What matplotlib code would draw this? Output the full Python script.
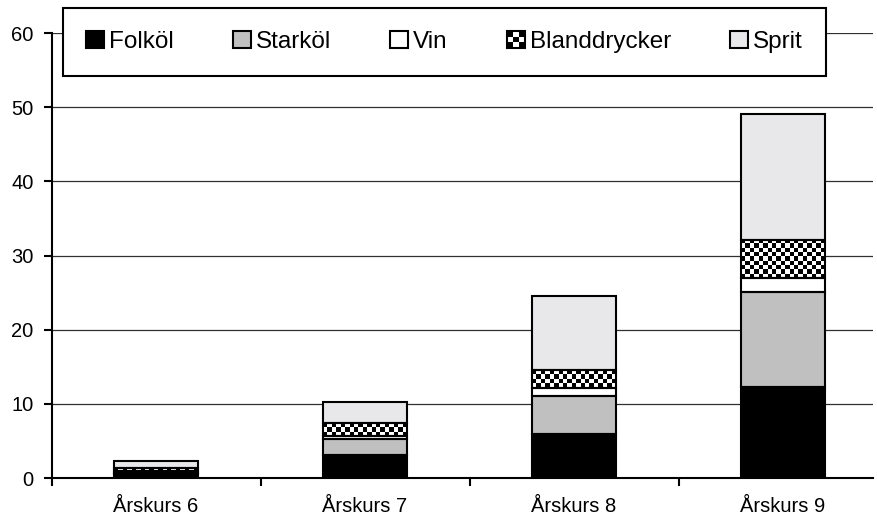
import numpy as np
import matplotlib
matplotlib.use("Agg")
import matplotlib.pyplot as plt
from matplotlib.patches import Rectangle
from matplotlib.legend_handler import HandlerBase

plt.rcParams["font.family"] = ["Liberation Sans", "DejaVu Sans"]

# data
categories = ["Årskurs 6", "Årskurs 7", "Årskurs 8", "Årskurs 9"]
folkol = [0.6, 3.1, 5.9, 12.3]
starkol = [0.1, 2.2, 5.2, 12.8]
vin = [0.2, 0.4, 1.1, 1.8]
bland = [0.4, 1.7, 2.4, 5.2]
sprit = [1.0, 2.8, 9.9, 17.0]
series_names = ["Folköl", "Starköl", "Vin", "Blanddrycker", "Sprit"]
y_ticks = [0, 10, 20, 30, 40, 50, 60]

face = {"Folköl": "#000000", "Starköl": "#c0c0c0", "Vin": "#ffffff",
        "Blanddrycker": "#ffffff", "Sprit": "#e8e8ea"}


class CheckerHandler(HandlerBase):
    def create_artists(self, legend, orig_handle, xdescent, ydescent,
                       width, height, fontsize, trans):
        out = [Rectangle((-xdescent, -ydescent), width, height,
                         facecolor="white", edgecolor="none", transform=trans)]
        n = 3
        sw, sh = width / n, height / n
        for i in range(n):
            for j in range(n):
                if (i + j) % 2 == 0:
                    out.append(Rectangle((-xdescent + i * sw, -ydescent + j * sh), sw, sh,
                                         facecolor="black", edgecolor="none", transform=trans))
        out.append(Rectangle((-xdescent, -ydescent), width, height, fill=False,
                             edgecolor="black", linewidth=1.5, transform=trans))
        return out


fig = plt.figure(figsize=(8.77, 5.21), dpi=100)
ax = fig.add_axes([51.5 / 877, 43 / 521, 821.5 / 877, 445 / 521])

x = np.arange(len(categories))
w = 0.40
bottom = np.zeros(len(categories))
bars = {}
for name, vals in zip(series_names, [folkol, starkol, vin, bland, sprit]):
    bars[name] = ax.bar(x, vals, w, bottom=bottom, color=face[name],
                        edgecolor="none", zorder=2)
    bottom = bottom + np.array(vals)

# checker fill for Blanddrycker
sq = 4.4  # checker square in px
px_per_unit = 445 / 60
for rect in bars["Blanddrycker"]:
    h = rect.get_height()
    ncols = 19
    nrows = max(1, int(round(h * px_per_unit / sq)))
    board = np.indices((nrows, ncols)).sum(axis=0) % 2
    x0 = rect.get_x()
    y0 = rect.get_y()
    im = ax.imshow(board, cmap="gray", vmin=0, vmax=1, interpolation="nearest",
                   extent=[x0, x0 + rect.get_width(), y0, y0 + h],
                   aspect="auto", zorder=2.2)
    im.set_clip_path(rect)

# outlines
bottom = np.zeros(len(categories))
for vals in [folkol, starkol, vin, bland, sprit]:
    ax.bar(x, vals, w, bottom=bottom, fill=False, edgecolor="black",
           linewidth=1.5, zorder=2.5)
    bottom = bottom + np.array(vals)

ax.set_xlim(-0.5, 3.43)
ax.set_ylim(0, 60)
ax.set_yticks(y_ticks)
ax.yaxis.grid(True, color="#303030", linewidth=0.9, zorder=0)
ax.set_axisbelow(True)

ax.set_xticks(x)
ax.set_xticklabels(categories, fontsize=14.5)
ax.set_xticks([-0.5, 0.5, 1.5, 2.5], minor=True)
ax.tick_params(axis="x", which="major", length=0, pad=14)
ax.tick_params(axis="x", which="minor", length=6, width=1.5, direction="out")
ax.tick_params(axis="y", length=6, width=1.5, direction="out", labelsize=14.5, pad=7)

for s in ["top", "right"]:
    ax.spines[s].set_visible(False)
for s in ["left", "bottom"]:
    ax.spines[s].set_linewidth(1.5)
    ax.spines[s].set_color("black")

handles = [Rectangle((0, 0), 1, 1, facecolor=face[n], edgecolor="black", linewidth=1.5)
           for n in series_names]
checker_handle = handles[3]
leg = fig.legend(handles, series_names, loc="upper left", ncol=5,
                 bbox_to_anchor=(63 / 877, 1 - 8 / 521, (826 - 63) / 877, 0.0),
                 mode="expand", fontsize=17.5, frameon=True, fancybox=False,
                 edgecolor="black", handlelength=0.75, handleheight=0.7,
                 handletextpad=0.2, borderpad=0.95, borderaxespad=0,
                 columnspacing=1.5,
                 handler_map={checker_handle: CheckerHandler()})
leg.get_frame().set_linewidth(1.5)
leg.get_frame().set_alpha(1)
leg.set_zorder(5)

fig.savefig("out.png", dpi=100)
